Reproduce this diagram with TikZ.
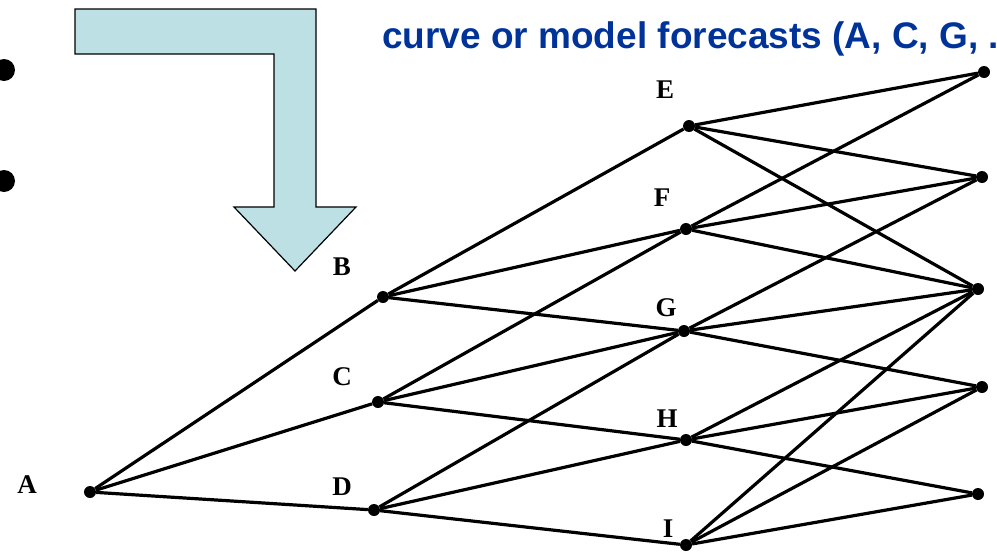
\documentclass[tikz,border=0pt]{standalone}
\usepackage{fontspec}
\setmainfont{Liberation Serif}
\newfontfamily\headfont{Liberation Sans}
\definecolor{arrowfill}{RGB}{188,224,227}
\definecolor{titleblue}{RGB}{0,51,153}

\begin{document}
\begin{tikzpicture}[x=1pt, y=-1pt,
    state/.style={circle, fill=black, inner sep=0pt, minimum size=12pt},
    tag/.style={font=\bfseries\fontsize{27}{27}\selectfont, inner sep=0pt},
    edge/.style={line width=3.2pt, color=black},
    bigarrow/.style={draw=black, line width=1.2pt, fill=arrowfill, line join=miter}
]
\useasboundingbox (0,0) rectangle (997,552);

% slide bullets and bent arrow
\fill (4,70) circle[radius=11pt];
\fill (4,181) circle[radius=11pt];
\draw[bigarrow] (75,9) -- (316,9) -- (316,207) -- (356,207) -- (295,271)
    -- (234,207) -- (274,207) -- (274,54) -- (75,54) -- cycle;

\node[anchor=base west, inner sep=0pt, text=titleblue,
      font=\headfont\bfseries\fontsize{37}{37}\selectfont] (title) at (382,48)
      {curve or model forecasts (A, C, G, ...};

% tree nodes
\node[state] (a)  at (90,492)  {};
\node[state] (b)  at (383,297) {};
\node[state] (c)  at (378,402) {};
\node[state] (d)  at (374,510) {};
\node[state] (e)  at (689,126) {};
\node[state] (f)  at (686,229) {};
\node[state] (g)  at (684,331) {};
\node[state] (h)  at (686,440) {};
\node[state] (i)  at (686,545) {};
\node[state] (r1) at (984,72)  {};
\node[state] (r2) at (982,177) {};
\node[state] (r3) at (978,289) {};
\node[state] (r4) at (982,387) {};
\node[state] (r5) at (978,494) {};

\node[tag] (labA) at (27,485)  {A};
\node[tag] (labB) at (342,267) {B};
\node[tag] (labC) at (342,377) {C};
\node[tag] (labD) at (342,487) {D};
\node[tag] (labE) at (665,90)  {E};
\node[tag] (labF) at (662,198) {F};
\node[tag] (labG) at (666,308) {G};
\node[tag] (labH) at (667,419) {H};
\node[tag] (labI) at (668,529) {I};

% branches
\draw[edge] (a) -- (b);
\draw[edge] (a) -- (c);
\draw[edge] (a) -- (d);
\draw[edge] (b) -- (e);
\draw[edge] (b) -- (f);
\draw[edge] (b) -- (g);
\draw[edge] (c) -- (f);
\draw[edge] (c) -- (g);
\draw[edge] (c) -- (h);
\draw[edge] (d) -- (g);
\draw[edge] (d) -- (h);
\draw[edge] (d) -- (i);
\draw[edge] (e) -- (r1);
\draw[edge] (e) -- (r2);
\draw[edge] (e) -- (r3);
\draw[edge] (f) -- (r1);
\draw[edge] (f) -- (r2);
\draw[edge] (f) -- (r3);
\draw[edge] (g) -- (r2);
\draw[edge] (g) -- (r3);
\draw[edge] (g) -- (r4);
\draw[edge] (h) -- (r3);
\draw[edge] (h) -- (r4);
\draw[edge] (h) -- (r5);
\draw[edge] (i) -- (r3);
\draw[edge] (i) -- (r4);
\draw[edge] (i) -- (r5);
\end{tikzpicture}
\end{document}
